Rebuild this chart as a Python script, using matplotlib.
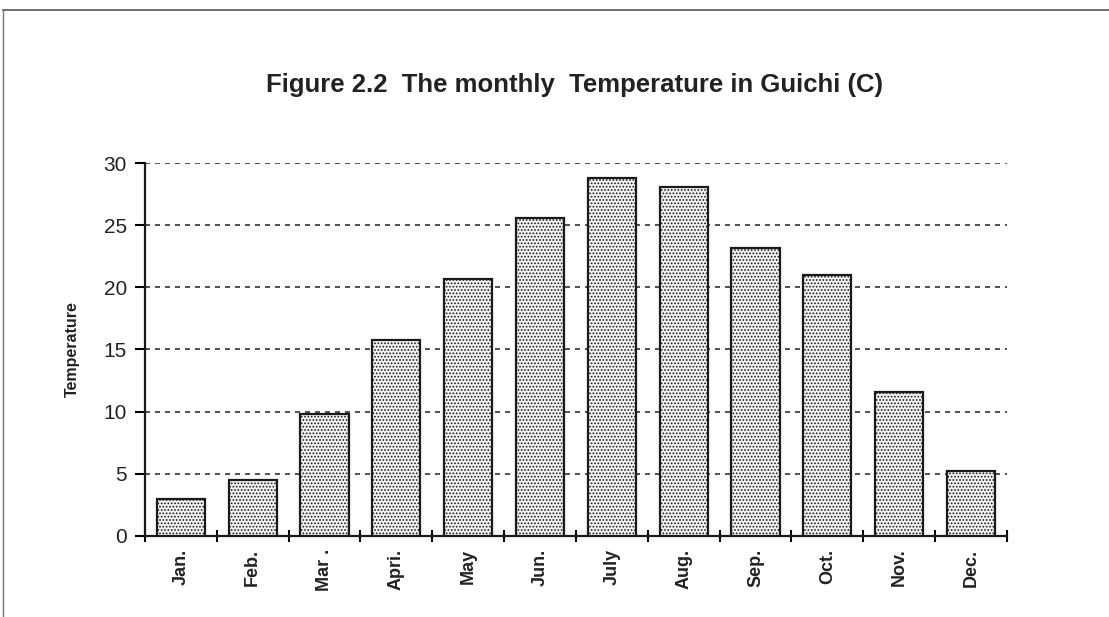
import matplotlib
matplotlib.use("Agg")
import matplotlib.pyplot as plt
import numpy as np
from matplotlib.lines import Line2D

months = ["Jan.", "Feb.", "Mar .", "Apri.", "May", "Jun.", "July", "Aug.", "Sep.", "Oct.", "Nov.", "Dec."]
temps = [3.0, 4.5, 9.8, 15.8, 20.7, 25.6, 28.8, 28.05, 23.2, 21.0, 11.6, 5.2]
yticks = [0, 5, 10, 15, 20, 25, 30]

plt.rcParams['font.family'] = ['Liberation Sans', 'DejaVu Sans']
plt.rcParams['hatch.color'] = '#a0a0a0'
plt.rcParams['hatch.linewidth'] = 0.8

fig = plt.figure(figsize=(11.09, 6.17), dpi=100)
ax = fig.add_axes([0.1307, 0.1313, 0.908 - 0.1307, 0.7358 - 0.1313])

x = np.arange(len(months))
ax.bar(x, temps, width=0.67, facecolor='#f2f2f2', edgecolor='#1a1a1a', linewidth=1.6,
       hatch='.....', zorder=3)

ax.set_xlim(-0.5, len(months) - 0.5)
ax.set_ylim(0, 30)
ax.set_yticks(yticks)
ax.set_yticklabels([str(t) for t in yticks], fontsize=15, color='#222222')
ax.set_xticks(x)
ax.set_xticklabels(months, rotation=90, fontsize=13, fontweight='bold', color='#222222')
ax.tick_params(axis='x', which='major', length=0, pad=9)
ax.set_xticks(np.arange(-0.5, len(months) + 0.5, 1), minor=True)
ax.tick_params(axis='x', which='minor', length=8, width=1.5, direction='inout')
ax.tick_params(axis='y', length=7, width=1.5, direction='out', pad=6)

for s in ['top', 'right']:
    ax.spines[s].set_visible(False)
for s in ['left', 'bottom']:
    ax.spines[s].set_linewidth(1.6)
    ax.spines[s].set_color('#1a1a1a')

ax.yaxis.grid(True, linestyle=(0, (3, 3)), color='#333333', linewidth=1.2, zorder=0)
ax.set_axisbelow(True)

ax.set_ylabel("Temperature", fontsize=11.5, fontweight='bold', labelpad=17, color='#222222')

fig.text(574.5 / 1109, 1 - 92 / 617, "Figure 2.2  The monthly  Temperature in Guichi (C)",
         ha='center', va='baseline', fontsize=18.5, fontweight='bold', color='#222222')

fig.add_artist(Line2D([3 / 1109, 1.0], [1 - 10 / 617, 1 - 10 / 617], color='#555555', linewidth=1.2))
fig.add_artist(Line2D([3 / 1109, 3 / 1109], [0, 1 - 10 / 617], color='#777777', linewidth=1.0))

fig.savefig("out.png", dpi=100)
